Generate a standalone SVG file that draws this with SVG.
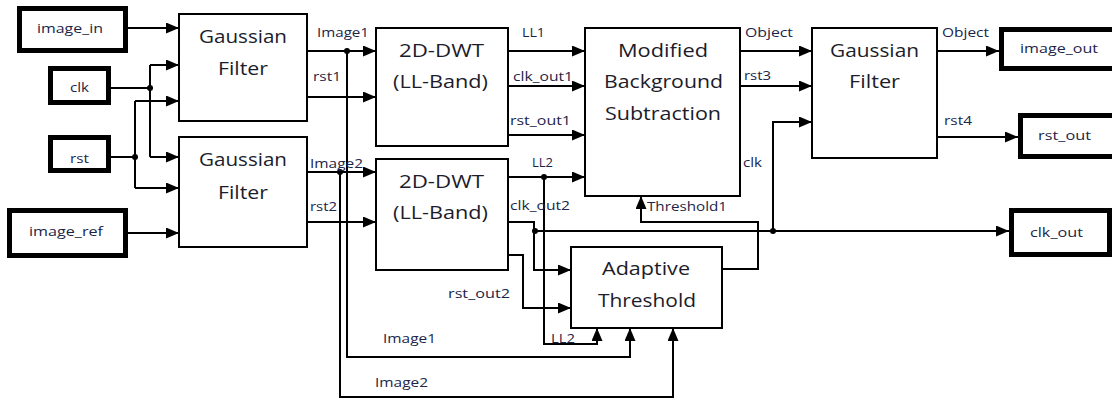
<svg xmlns="http://www.w3.org/2000/svg" width="1112" height="402" viewBox="0 0 1112 402">
  <style>
    .port { fill: #fff; stroke: #000; stroke-width: 5; }
    .block { fill: #fff; stroke: #000; stroke-width: 2; }
    .wire { fill: none; stroke: #000; stroke-width: 2; }
    .arrow { fill: none; stroke: #000; stroke-width: 2; marker-end: url(#head); }
    .dot { fill: #000; }
    .title { font-family: "Open Sans", "Noto Sans", sans-serif; font-size: 18px; fill: #1c1c2a; }
    .lbl { font-family: "Open Sans", "Noto Sans", sans-serif; font-size: 13px; fill: #1b2548; }
  </style>
  <defs>
    <marker id="head" markerUnits="userSpaceOnUse" markerWidth="14" markerHeight="12" refX="13" refY="5.5" orient="auto">
      <path d="M0,0 L13,5.5 L0,11 z" fill="#000"/>
    </marker>
  </defs>

  <!-- input ports -->
  <g id="image_in">
    <rect class="port" x="19.5" y="8.5" width="106" height="42"/>
    <text class="lbl" x="37" y="33" textLength="66" lengthAdjust="spacingAndGlyphs">image_in</text>
  </g>
  <g id="clk">
    <rect class="port" x="50.5" y="68.5" width="58" height="34"/>
    <text class="lbl" x="70" y="92" textLength="19" lengthAdjust="spacingAndGlyphs">clk</text>
  </g>
  <g id="rst">
    <rect class="port" x="50.5" y="137.5" width="58" height="33"/>
    <text class="lbl" x="70" y="163" textLength="19" lengthAdjust="spacingAndGlyphs">rst</text>
  </g>
  <g id="image_ref">
    <rect class="port" x="9.5" y="210.5" width="116" height="45"/>
    <text class="lbl" x="29" y="236" textLength="74" lengthAdjust="spacingAndGlyphs">image_ref</text>
  </g>

  <!-- processing blocks -->
  <g id="gauss1">
    <rect class="block" x="179" y="14" width="128" height="107"/>
    <text class="title" x="199" y="43" textLength="88" lengthAdjust="spacingAndGlyphs">Gaussian</text>
    <text class="title" x="218" y="75" textLength="50" lengthAdjust="spacingAndGlyphs">Filter</text>
  </g>
  <g id="gauss2">
    <rect class="block" x="179" y="137" width="128" height="110"/>
    <text class="title" x="199" y="166" textLength="88" lengthAdjust="spacingAndGlyphs">Gaussian</text>
    <text class="title" x="218" y="199" textLength="50" lengthAdjust="spacingAndGlyphs">Filter</text>
  </g>
  <g id="dwt1">
    <rect class="block" x="376" y="28" width="132" height="118"/>
    <text class="title" x="399" y="57" textLength="85" lengthAdjust="spacingAndGlyphs">2D-DWT</text>
    <text class="title" x="393" y="88" textLength="95" lengthAdjust="spacingAndGlyphs">(LL-Band)</text>
  </g>
  <g id="dwt2">
    <rect class="block" x="376" y="159" width="132" height="111"/>
    <text class="title" x="399" y="188" textLength="85" lengthAdjust="spacingAndGlyphs">2D-DWT</text>
    <text class="title" x="393" y="219" textLength="95" lengthAdjust="spacingAndGlyphs">(LL-Band)</text>
  </g>
  <g id="mbs">
    <rect class="block" x="585" y="28" width="155" height="168"/>
    <text class="title" x="618" y="57" textLength="90" lengthAdjust="spacingAndGlyphs">Modified</text>
    <text class="title" x="604" y="88" textLength="119" lengthAdjust="spacingAndGlyphs">Background</text>
    <text class="title" x="605" y="120" textLength="116" lengthAdjust="spacingAndGlyphs">Subtraction</text>
  </g>
  <g id="gauss3">
    <rect class="block" x="812" y="28" width="125" height="130"/>
    <text class="title" x="830" y="57" textLength="89" lengthAdjust="spacingAndGlyphs">Gaussian</text>
    <text class="title" x="849" y="88" textLength="51" lengthAdjust="spacingAndGlyphs">Filter</text>
  </g>
  <g id="adaptive">
    <rect class="block" x="571" y="247" width="151" height="81"/>
    <text class="title" x="602" y="275" textLength="88" lengthAdjust="spacingAndGlyphs">Adaptive</text>
    <text class="title" x="598" y="307" textLength="98" lengthAdjust="spacingAndGlyphs">Threshold</text>
  </g>

  <!-- output ports -->
  <g id="image_out">
    <rect class="port" x="1001.5" y="29.5" width="120" height="39"/>
    <text class="lbl" x="1020" y="53" textLength="78" lengthAdjust="spacingAndGlyphs">image_out</text>
  </g>
  <g id="rst_out">
    <rect class="port" x="1020.5" y="115.5" width="100" height="41"/>
    <text class="lbl" x="1038" y="140" textLength="53" lengthAdjust="spacingAndGlyphs">rst_out</text>
  </g>
  <g id="clk_out">
    <rect class="port" x="1011.5" y="210.5" width="98" height="44"/>
    <text class="lbl" x="1030" y="237" textLength="53" lengthAdjust="spacingAndGlyphs">clk_out</text>
  </g>

  <!-- connectors -->
  <g id="connectors">
    <path class="arrow" d="M128,28 H179"/>
    <path class="wire" d="M111,88 H150 M150,65 V157"/>
    <path class="arrow" d="M150,65 H179"/>
    <path class="arrow" d="M150,157 H179"/>
    <path class="wire" d="M111,157 H135 M135,101 V188"/>
    <path class="arrow" d="M135,101 H179"/>
    <path class="arrow" d="M135,188 H179"/>
    <path class="arrow" d="M128,233 H179"/>

    <path class="arrow" d="M307,51 H376"/>
    <path class="arrow" d="M307,97 H376"/>
    <path class="arrow" d="M307,172 H376"/>
    <path class="arrow" d="M307,222 H376"/>
    <path class="arrow" d="M347,51 V357 H630 V328"/>
    <path class="arrow" d="M340,172 V397 H673 V328"/>

    <path class="arrow" d="M508,51 H585"/>
    <path class="arrow" d="M508,86 H585"/>
    <path class="arrow" d="M508,135 H585"/>
    <path class="arrow" d="M508,177 H585"/>
    <path class="arrow" d="M544,177 V344 H597 V328"/>
    <path class="arrow" d="M508,222 H534 V270 H571"/>
    <path class="arrow" d="M508,255 H523 V308 H571"/>
    <path class="arrow" d="M534,231 H1009"/>
    <path class="arrow" d="M773,231 V122 H812"/>
    <path class="arrow" d="M722,269 H758 V222 H641 V196"/>

    <path class="arrow" d="M740,51 H812"/>
    <path class="arrow" d="M740,86 H812"/>
    <path class="arrow" d="M937,51 H999"/>
    <path class="arrow" d="M937,137 H1018"/>

    <circle class="dot" cx="150" cy="88" r="3"/>
    <circle class="dot" cx="135" cy="157" r="3"/>
    <circle class="dot" cx="347" cy="51" r="3"/>
    <circle class="dot" cx="340" cy="172" r="3"/>
    <circle class="dot" cx="544" cy="177" r="3"/>
    <circle class="dot" cx="535" cy="231" r="3"/>
    <circle class="dot" cx="773" cy="231" r="3"/>

    <text class="lbl" x="317" y="37" textLength="52" lengthAdjust="spacingAndGlyphs">Image1</text>
    <text class="lbl" x="313" y="81" textLength="28" lengthAdjust="spacingAndGlyphs">rst1</text>
    <text class="lbl" x="310" y="168" textLength="53" lengthAdjust="spacingAndGlyphs">Image2</text>
    <text class="lbl" x="310" y="211" textLength="27" lengthAdjust="spacingAndGlyphs">rst2</text>
    <text class="lbl" x="522" y="37" textLength="23" lengthAdjust="spacingAndGlyphs">LL1</text>
    <text class="lbl" x="513" y="81" textLength="60" lengthAdjust="spacingAndGlyphs">clk_out1</text>
    <text class="lbl" x="510" y="125" textLength="61" lengthAdjust="spacingAndGlyphs">rst_out1</text>
    <text class="lbl" x="532" y="167" textLength="21" lengthAdjust="spacingAndGlyphs">LL2</text>
    <text class="lbl" x="510" y="210" textLength="60" lengthAdjust="spacingAndGlyphs">clk_out2</text>
    <text class="lbl" x="448" y="298" textLength="62" lengthAdjust="spacingAndGlyphs">rst_out2</text>
    <text class="lbl" x="383" y="343" textLength="53" lengthAdjust="spacingAndGlyphs">Image1</text>
    <text class="lbl" x="375" y="387" textLength="53" lengthAdjust="spacingAndGlyphs">Image2</text>
    <text class="lbl" x="551" y="343" textLength="24" lengthAdjust="spacingAndGlyphs">LL2</text>
    <text class="lbl" x="647" y="211" textLength="80" lengthAdjust="spacingAndGlyphs">Threshold1</text>
    <text class="lbl" x="745" y="37" textLength="48" lengthAdjust="spacingAndGlyphs">Object</text>
    <text class="lbl" x="744" y="80" textLength="27" lengthAdjust="spacingAndGlyphs">rst3</text>
    <text class="lbl" x="743" y="167" textLength="19" lengthAdjust="spacingAndGlyphs">clk</text>
    <text class="lbl" x="942" y="37" textLength="47" lengthAdjust="spacingAndGlyphs">Object</text>
    <text class="lbl" x="944" y="125" textLength="28" lengthAdjust="spacingAndGlyphs">rst4</text>
  </g>
</svg>
